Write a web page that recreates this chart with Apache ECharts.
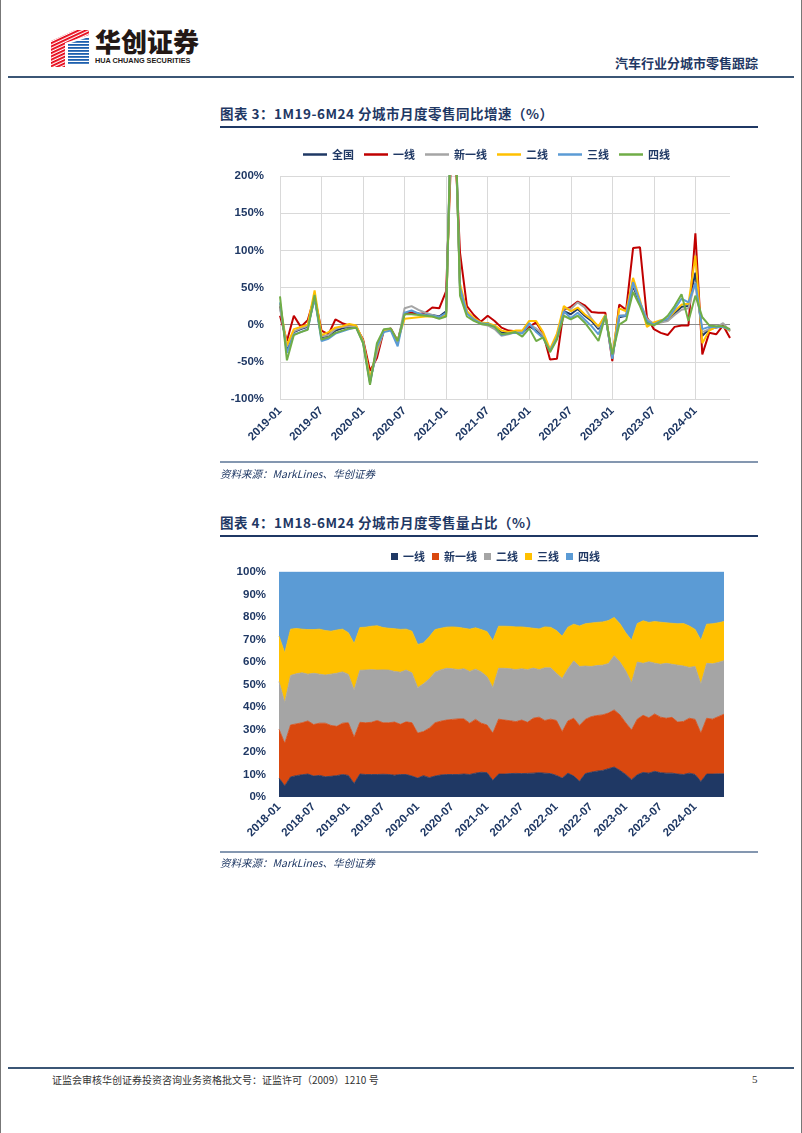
<!DOCTYPE html>
<html><head><meta charset="utf-8">
<script src="https://cdn.jsdelivr.net/npm/echarts@6/dist/echarts.min.js"></script>
<style>
html,body{margin:0;padding:0;background:#fff;}
#page{position:relative;width:802px;height:1133px;overflow:hidden;background:#fff;font-family:"Noto Sans CJK SC",sans-serif;}
.abs{position:absolute;white-space:nowrap;}
.title{font-size:13.5px;font-weight:bold;color:#1F3864;letter-spacing:0.5px;}
.src{font-size:10.5px;font-style:italic;color:#1F3864;}
.hl{position:absolute;}
</style></head>
<body><div id="page">
<div class="hl" style="left:0;top:0;width:1px;height:1133px;background:#777"></div>
<div class="hl" style="left:801px;top:0;width:1px;height:1133px;background:#777"></div>
<svg class="abs" style="left:51px;top:29px" width="40" height="38" viewBox="0 0 40 38">
<defs>
<pattern id="pr" width="3" height="3" patternUnits="userSpaceOnUse" patternTransform="rotate(-25)"><rect width="3" height="1.8" fill="#E60012"/></pattern>
<pattern id="pb" width="3" height="3" patternUnits="userSpaceOnUse"><rect width="3" height="1.8" fill="#1D5FAE"/></pattern>
</defs>
<polygon points="0,12 24,1 38,1 38,6 14,14 14,38 0,38" fill="url(#pr)"/>
<polygon points="17,15 38,8 38,36 17,36" fill="url(#pb)"/>
</svg>
<div class="abs" style="left:95px;top:26px;font-size:26px;font-weight:900;color:#231815;line-height:30px">华创证券</div>
<div class="abs" style="left:95px;top:56px;font-size:7.3px;font-weight:bold;color:#231815;font-family:'Liberation Sans',sans-serif;line-height:9px">HUA CHUANG SECURITIES</div>
<div class="abs" style="right:44px;top:54px;font-size:13px;font-weight:bold;color:#1F3864;line-height:18px">汽车行业分城市零售跟踪</div>
<div class="hl" style="left:8px;top:76px;width:786px;height:2px;background:#3B5675"></div>

<div class="abs title" style="left:220px;top:103px;line-height:20px">图表 3：1M19-6M24 分城市月度零售同比增速（%）</div>
<div class="hl" style="left:220px;top:126px;width:538px;height:2px;background:#1F3864"></div>
<div id="c1" class="abs" style="left:220px;top:140px;width:540px;height:330px"></div>
<div class="hl" style="left:220px;top:461px;width:538px;height:2px;background:#8497B0"></div>
<div class="abs src" style="left:220px;top:466px;line-height:16px">资料来源：MarkLines、华创证券</div>

<div class="abs title" style="left:220px;top:512px;line-height:20px">图表 4：1M18-6M24 分城市月度零售量占比（%）</div>
<div class="hl" style="left:220px;top:535px;width:538px;height:2px;background:#1F3864"></div>
<div id="c2" class="abs" style="left:220px;top:540px;width:540px;height:320px"></div>
<div class="hl" style="left:220px;top:851px;width:538px;height:2px;background:#8497B0"></div>
<div class="abs src" style="left:220px;top:855px;line-height:16px">资料来源：MarkLines、华创证券</div>

<div class="hl" style="left:8px;top:1067px;width:786px;height:2px;background:#3B5675"></div>
<div class="abs" style="left:52px;top:1073px;font-size:10px;color:#333;line-height:14px">证监会审核华创证券投资咨询业务资格批文号：证监许可（2009）1210 号</div>
<div class="abs" style="left:752px;top:1072px;font-size:11px;color:#333;line-height:14px;font-family:'Liberation Serif',serif">5</div>
</div>
<script>
// ---------- categories ----------
const months4 = ['2018-01','2018-02','2018-03','2018-04','2018-05','2018-06','2018-07','2018-08','2018-09','2018-10','2018-11','2018-12',
'2019-01','2019-02','2019-03','2019-04','2019-05','2019-06','2019-07','2019-08','2019-09','2019-10','2019-11','2019-12',
'2020-01','2020-02','2020-03','2020-04','2020-05','2020-06','2020-07','2020-08','2020-09','2020-10','2020-11','2020-12',
'2021-01','2021-02','2021-03','2021-04','2021-05','2021-06','2021-07','2021-08','2021-09','2021-10','2021-11','2021-12',
'2022-01','2022-02','2022-03','2022-04','2022-05','2022-06','2022-07','2022-08','2022-09','2022-10','2022-11','2022-12',
'2023-01','2023-02','2023-03','2023-04','2023-05','2023-06','2023-07','2023-08','2023-09','2023-10','2023-11','2023-12',
'2024-01','2024-02','2024-03','2024-04','2024-05','2024-06'];
const months3 = months4.slice(12);

// ---------- chart 3: YoY growth (%) 2019-01 .. 2024-06 ----------
const yoyNational = [25,-33,-10,-6,-3,36,-17,-15,-8,-5,-3,-3,
-22,-76,-35,-8,-7,-24,15,16,15,13,13,11,
18,370,50,17,8,2,2,-3,-11,-11,-10,-11,
-2,-8,-15,-36,-17,18,14,21,12,5,-6,12,
-42,10,12,52,28,4,0,4,6,15,24,25,
70,-15,-6,-4,-2,-8];
const yoyTier1 = [12,-22,12,-3,6,38,-8,-13,7,2,-1,-3,
-20,-62,-45,-8,-5,-22,15,16,14,16,23,22,
45,300,97,25,13,4,12,5,-4,-8,-9,-9,
-3,3,-12,-47,-46,20,24,31,26,17,16,16,
-49,27,20,103,104,10,-6,-11,-14,-3,-1,-1,
123,-40,-11,-13,-1,-18];
const yoyNewTier1 = [22,-30,-9,-5,-2,38,-16,-14,-6,-3,-2,-2,
-22,-73,-38,-7,-6,-24,22,25,20,16,13,10,
15,380,50,17,7,1,-1,-6,-15,-13,-10,-10,
0,-5,-14,-35,-15,22,21,30,23,8,-4,13,
-45,12,13,55,30,8,1,3,5,13,20,22,
57,-10,-6,-4,2,-9];
const yoyTier2 = [28,-28,-6,-3,0,46,-14,-10,-4,-2,1,-1,
-22,-72,-33,-8,-7,-22,8,9,10,11,11,9,
14,360,55,18,9,3,2,-1,-8,-10,-8,-8,
5,5,-10,-33,-12,25,18,23,14,7,-2,13,
-42,22,18,63,33,-3,3,6,8,18,27,28,
93,-25,-8,-3,-3,-8];
const yoyTier3 = [30,-38,-13,-10,-6,36,-22,-19,-12,-9,-6,-4,
-24,-79,-30,-10,-8,-29,16,19,15,13,12,10,
16,380,50,15,7,2,1,-3,-14,-12,-11,-12,
2,-10,-18,-35,-18,18,9,16,7,-2,-13,12,
-46,12,12,57,30,5,0,5,8,21,35,30,
56,-6,-3,-3,-3,-7];
const yoyTier4 = [38,-48,-14,-10,-7,40,-20,-17,-11,-8,-5,-4,
-25,-81,-25,-6,-5,-22,14,14,13,12,11,8,
11,400,39,11,5,1,0,-3,-13,-12,-10,-16,
-5,-22,-17,-37,-20,12,7,12,3,-9,-22,12,
-40,0,6,44,25,2,-1,4,12,25,41,5,
39,10,-1,-2,-2,-6];

// ---------- chart 4: share of monthly retail (%) 2018-01 .. 2024-06 ----------
const shareTier1 = [8.4,5.0,8.9,9.5,9.9,10.2,9.3,9.6,9.0,9.2,9.5,10.0,
9.6,6.0,10.2,10.0,10.0,10.0,10.1,10.0,9.7,10.0,10.0,9.3,
8.4,9.5,8.6,9.3,9.8,10.0,10.0,10.0,10.2,10.0,10.6,11.0,
10.8,7.4,10.2,10.2,10.4,10.5,10.4,10.5,10.6,10.8,10.6,10.4,
9.6,8.4,10.6,9.3,7.0,10.4,11.0,11.5,11.8,12.6,13.3,11.8,
10.0,7.7,9.9,10.9,10.6,11.4,10.8,10.6,10.6,10.2,10.0,10.6,
10.0,6.9,10.2,10.2,10.3,10.3];
const shareNewTier1 = [21.7,18.9,23.1,23.0,23.1,23.6,22.9,23.2,23.8,22.6,21.9,22.8,
23.4,20.6,23.0,23.0,23.2,24.0,22.9,23.0,23.6,22.3,23.4,23.7,
20.0,19.6,22.0,23.7,23.9,24.2,24.5,24.7,24.5,22.8,23.9,21.8,
21.2,21.0,24.4,24.0,23.5,23.0,23.8,22.7,24.4,24.7,23.4,24.2,
24.4,20.7,23.2,25.7,24.8,24.1,24.7,24.7,24.7,24.7,25.4,24.7,
23.0,22.1,24.7,25.4,24.6,25.5,24.7,24.4,24.8,23.1,23.6,24.4,
24.5,21.5,24.8,24.4,25.4,26.5];
const shareTier2 = [21.2,18.1,22.0,22.3,22.2,20.8,22.8,21.8,21.4,22.8,23.6,22.8,
21.5,21.0,23.1,23.4,23.4,22.4,23.5,23.4,22.5,23.2,23.0,22.2,
20.2,21.2,21.9,22.5,22.8,23.0,22.5,21.9,22.3,23.0,22.3,22.8,
21.5,20.3,22.6,23.0,23.1,23.1,22.8,23.4,22.3,21.1,23.4,22.8,
21.0,23.6,23.2,25.5,26.2,23.7,22.3,22.2,22.1,22.0,24.1,23.5,
23.0,21.0,25.4,23.1,24.9,22.6,23.5,24.4,23.6,25.3,24.6,22.6,
23.5,21.8,24.4,24.6,24.1,23.8];
const shareTier3 = [20.2,22.1,20.6,20.1,19.4,19.8,19.4,20.0,19.8,19.1,19.2,19.0,
18.5,20.6,19.0,19.1,19.3,19.7,18.8,18.6,19.0,19.0,18.2,18.5,
19.2,18.2,18.7,18.9,18.5,18.3,18.6,18.8,18.0,18.8,18.4,18.8,
20.0,20.7,18.7,18.7,18.8,19.0,18.6,18.7,17.7,18.1,18.2,18.0,
19.0,18.8,18.5,16.3,18.0,18.8,19.3,19.2,19.2,19.1,17.0,17.0,
17.0,18.9,17.1,18.9,17.5,18.5,18.7,18.0,18.2,18.4,18.9,18.4,
16.5,19.5,17.4,17.8,17.6,17.4];
const shareTier4 = [28.5,35.9,25.4,25.1,25.4,25.6,25.6,25.4,26.0,26.3,25.8,25.4,
27.0,31.8,24.7,24.5,24.1,23.9,24.7,25.0,25.2,25.5,25.4,26.3,
32.2,31.5,28.8,25.6,25.0,24.5,24.4,24.6,25.0,25.4,24.8,25.6,
26.5,30.6,24.1,24.1,24.2,24.4,24.4,24.7,25.0,25.3,24.4,24.6,
26.0,28.5,24.5,23.2,24.0,23.0,22.7,22.4,22.2,21.6,20.2,23.0,
27.0,30.3,22.9,21.7,22.4,22.0,22.3,22.6,22.8,23.0,22.9,24.0,
25.5,30.3,23.2,23.0,22.6,22.0];

const seriesNames = ['全国','一线','新一线','二线','三线','四线'];
const tierNames = ['一线','新一线','二线','三线','四线'];
const navy = '#1F3864';

// ---------- chart 3 ----------
const lineColors = ['#1F3864','#C00000','#A5A5A5','#FFC000','#5B9BD5','#70AD47'];
const lineData = [yoyNational,yoyTier1,yoyNewTier1,yoyTier2,yoyTier3,yoyTier4];
const c1 = echarts.init(document.getElementById('c1'), null, {renderer:'canvas'});
const labelFont = {color:navy,fontWeight:'bold',fontSize:11.5,fontFamily:'Liberation Sans, Arial, sans-serif'};
c1.setOption({
  animation:false,
  grid:{left:60,right:30,top:36,bottom:71,containLabel:false},
  legend:{show:true,left:78,top:4,icon:'rect',itemWidth:24,itemHeight:2.5,itemGap:10,
    textStyle:{color:navy,fontWeight:'bold',fontSize:11,fontFamily:'Noto Sans CJK SC'},
    data:seriesNames},
  xAxis:{type:'category',data:months3,boundaryGap:false,
    axisLine:{show:false},axisTick:{show:false},
    axisLabel:Object.assign({interval:5,rotate:45,margin:10},labelFont),
    splitLine:{show:true,interval:5,lineStyle:{color:'#D9D9D9',width:1}}},
  yAxis:{type:'value',min:-100,max:200,interval:50,
    axisLine:{show:false},axisTick:{show:false},
    axisLabel:Object.assign({formatter:'{value}%',margin:16},labelFont),
    splitLine:{show:true,lineStyle:{color:'#D9D9D9',width:1}}},
  series:lineData.map((d,k)=>({
    name:seriesNames[k],type:'line',data:d,symbol:'none',clip:true,
    lineStyle:{width:2,color:lineColors[k]},itemStyle:{color:lineColors[k]},
    z:2+k,
    markLine:k===0?{silent:true,symbol:'none',label:{show:false},
      lineStyle:{color:'#8C8C8C',width:1,type:'solid'},data:[{yAxis:0}],z:1}:undefined
  }))
});

// ---------- chart 4 ----------
const areaColors = ['#1F3864','#D9480F','#A5A5A5','#FFC000','#5B9BD5'];
const areaData = [shareTier1,shareNewTier1,shareTier2,shareTier3,shareTier4];
const c2 = echarts.init(document.getElementById('c2'), null, {renderer:'canvas'});
c2.setOption({
  animation:false,
  grid:{left:59,right:36,top:32,bottom:63,containLabel:false},
  legend:{show:true,left:166,top:6,icon:'rect',itemWidth:7,itemHeight:7,itemGap:7,
    textStyle:{color:navy,fontWeight:'bold',fontSize:11,fontFamily:'Noto Sans CJK SC'},
    data:tierNames},
  xAxis:{type:'category',data:months4,boundaryGap:false,
    axisLine:{show:false},axisTick:{show:false},
    axisLabel:Object.assign({interval:5,rotate:45,margin:8},labelFont),
    splitLine:{show:false}},
  yAxis:{type:'value',min:0,max:100,interval:10,
    axisLine:{show:false},axisTick:{show:false},
    axisLabel:Object.assign({formatter:'{value}%',margin:13},labelFont),
    splitLine:{show:false}},
  series:areaData.map((d,k)=>({
    name:tierNames[k],type:'line',stack:'share',data:d,symbol:'none',
    lineStyle:{width:0.8,color:areaColors[k]},itemStyle:{color:areaColors[k]},
    areaStyle:{color:areaColors[k],opacity:1}
  }))
});
</script>
</body></html>
